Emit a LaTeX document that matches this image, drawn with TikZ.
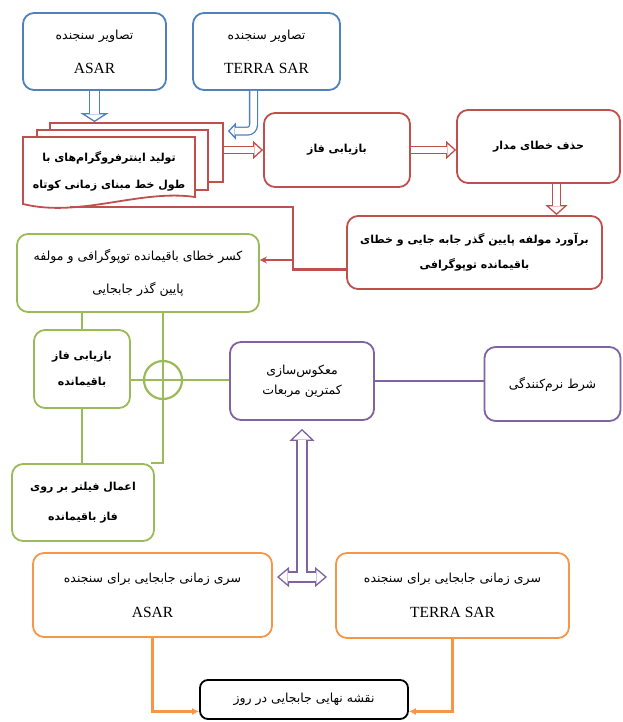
\documentclass[tikz,border=0pt]{standalone}
\usepackage{fontspec}
\setmainfont{Liberation Serif}
\newfontfamily\fafont[Script=Arabic]{DejaVu Sans}
\TeXXeTstate=1
\usetikzlibrary{arrows.meta}

\definecolor{sarblue}{HTML}{4F81BD}
\definecolor{sarred}{HTML}{C0504D}
\definecolor{sargreen}{HTML}{9BBB59}
\definecolor{sarpurple}{HTML}{8064A2}
\definecolor{sarorange}{HTML}{F79646}

\newcommand{\fa}[1]{{\fafont\beginR #1\endR}}
\newcommand{\fab}[1]{{\fafont\bfseries\fontsize{11}{13}\selectfont\beginR #1\endR}}
\newcommand{\lat}[1]{{\fontsize{15.5}{17}\selectfont #1}}

\tikzset{
  box/.style={draw, line width=1.8pt, rounded corners=11pt, fill=white, align=center, inner sep=1pt},
  page/.style={draw=sarred, line width=1.8pt, fill=white, inner sep=0pt},
  hollow/.style n args={3}{line width=1.3pt, -{Triangle[fill=white, length=#3, width=#2]},
     postaction={draw, double=white, double distance=#1, -, shorten >=#3-1pt}},
  link/.style={line width=2.2pt},
}

\begin{document}
\begin{tikzpicture}[x=1pt, y=-1pt]
   \tikzstyle{every node}=[font=\fontsize{12.5}{15}\selectfont]
   \useasboundingbox (0,0) rectangle (622,722);

   % images
   \node[box, draw=sarblue, minimum width=143pt, minimum height=77pt] (asarImg) at (94.5,51.5)
      {\fa{تصاویر سنجنده}\\[19pt]\lat{ASAR}};
   \node[box, draw=sarblue, minimum width=147pt, minimum height=77pt] (terraImg) at (266.5,51.5)
      {\fa{تصاویر سنجنده}\\[19pt]\lat{TERRA SAR}};

   \node[page, minimum width=173pt, minimum height=59pt] (ifgBack) at (136.5,152.5) {};
   \node[page, minimum width=171pt, minimum height=60pt] (ifgMid) at (122.5,160) {};
   \draw[sarred, line width=1.8pt, fill=white] (23,137) -- (195,137) -- (195,197)
      .. controls (140,189) and (80,218) .. (23,204) -- cycle;
   \node[align=center] (ifg) at (109,171)
      {\fab{تولید اینترفروگرام‌های با}\\[12pt]\fab{طول خط مبنای زمانی کوتاه}};

   \node[box, draw=sarred, minimum width=146pt, minimum height=74pt] (phase) at (337,150)
      {\fab{بازیابی فاز}};
   \node[box, draw=sarred, minimum width=163pt, minimum height=73pt] (orbit) at (538.5,146.5)
      {\fab{حذف خطای مدار}};
   \node[box, draw=sarred, minimum width=255pt, minimum height=73pt] (estim) at (474.5,252.5)
      {\fab{برآورد مولفه پایین گذر جابه جایی و خطای}\\[10pt]\fab{باقیمانده توپوگرافی}};

   % residual phase
   \node[box, draw=sargreen, minimum width=242pt, minimum height=78pt] (removeRes) at (138,273)
      {\fa{کسر خطای باقیمانده توپوگرافی و مولفه}\\[18pt]\fa{پایین گذر جابجایی}};
   \node[box, draw=sargreen, minimum width=96pt, minimum height=78pt] (unwrapRes) at (82,369)
      {\fab{بازیابی فاز}\\[11pt]\fab{باقیمانده}};
   \node[box, draw=sargreen, minimum width=142pt, minimum height=77pt] (filtRes) at (83,502.5)
      {\fab{اعمال فیلتر بر روی}\\[15pt]\fab{فاز باقیمانده}};
   \node[draw=sargreen, link, circle, minimum size=38pt, inner sep=0pt] (sumNode) at (163,380) {};

   \node[box, draw=sarpurple, minimum width=144pt, minimum height=78pt] (lsq) at (302,381)
      {\fa{معکوس‌سازی}\\[5pt]\fa{کمترین مربعات}};
   \node[box, draw=sarpurple, minimum width=136pt, minimum height=74pt] (smooth) at (552.5,384)
      {\fa{شرط نرم‌کنندگی}};

   % time series
   \node[box, draw=sarorange, minimum width=239pt, minimum height=84pt] (tsAsar) at (152.5,595)
      {\fa{سری زمانی جابجایی برای سنجنده}\\[20pt]\lat{ASAR}};
   \node[box, draw=sarorange, minimum width=233pt, minimum height=85pt] (tsTerra) at (452.5,595.5)
      {\fa{سری زمانی جابجایی برای سنجنده}\\[20pt]\lat{TERRA SAR}};
   \node[box, draw=black, rounded corners=8pt, minimum width=208pt, minimum height=39pt] (final) at (304,699.5)
      {\fa{نقشه نهایی جابجایی در روز}};

   \coordinate (orbitOut) at ([xshift=18pt]orbit.south);
   \coordinate (redBend) at (293,207);
   \coordinate (ifgLow) at (70,207);
   \coordinate (estimOut) at ([yshift=-17pt]estim.west);
   \coordinate (redIn) at ([yshift=13pt]removeRes.east);
   \coordinate (filtIn) at ([xshift=-4pt]filtRes.north east);
   \coordinate (hub) at (302,577);
   \coordinate (finL) at ([yshift=-12pt]final.west);
   \coordinate (finR) at ([yshift=-12pt]final.east);

   \draw[sarblue, hollow={9pt}{28pt}{9pt}] (asarImg.south) -- (asarImg.south |- ifgBack.north);
   \draw[sarblue, hollow={6.5pt}{17pt}{8pt}, rounded corners=6pt] ([xshift=-13pt]terraImg.south)
      |- ([xshift=4pt,yshift=-9pt]ifgBack.north east);
   \draw[sarred, hollow={5.5pt}{18pt}{10pt}] (ifgBack.east |- phase.west) -- (phase.west);
   \draw[sarred, hollow={5.5pt}{18pt}{10pt}] (phase.east) -- (phase.east -| orbit.west);
   \draw[sarred, hollow={6.5pt}{22pt}{10pt}] (orbitOut) -- (orbitOut |- estim.north);

   \draw[sarred, link] (estimOut) -| (redBend) -- (ifgLow);
   \draw[sarred, link, -{Stealth[length=7pt, width=7pt]}] (redIn -| redBend) -- (redIn);

   \draw[sargreen, link] (unwrapRes.north) -- (unwrapRes.north |- removeRes.south);
   \draw[sargreen, link] (unwrapRes.south) -- (unwrapRes.south |- filtRes.north);
   \draw[sargreen, link] (sumNode |- removeRes.south) |- (filtIn);
   \draw[sargreen, link] (unwrapRes.east |- sumNode) -- (sumNode -| lsq.west);

   \draw[sarpurple, link] (lsq.east) -- (lsq.east -| smooth.west);
   \draw[sarpurple, hollow={8.5pt}{20pt}{12pt}] (hub) -- ([xshift=-25pt]hub);
   \draw[sarpurple, hollow={8.5pt}{20pt}{12pt}] (hub) -- ([xshift=25pt]hub);
   \draw[sarpurple, hollow={8.5pt}{25pt}{12pt}] ([yshift=4pt]hub) -- ([yshift=-8pt]lsq.south);

   \draw[sarorange, link, -{Latex[length=7pt, width=7pt]}] (tsAsar.south) |- (finL);
   \draw[sarorange, link, -{Latex[length=7pt, width=7pt]}] (tsTerra.south) |- (finR);
\end{tikzpicture}
\end{document}
